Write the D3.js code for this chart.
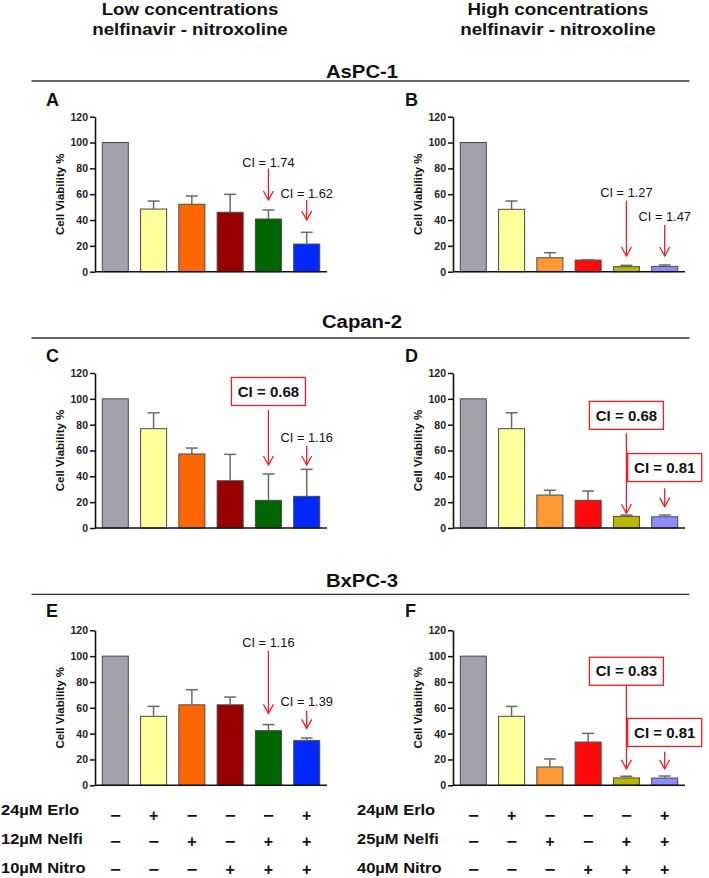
<!DOCTYPE html>
<html>
<head>
<meta charset="utf-8">
<script src="https://cdn.jsdelivr.net/npm/d3@7"></script>
<style>
  body { margin: 0; background: #fff; }
  svg { display: block; font-family: "Liberation Sans", Arial, sans-serif; }
</style>
</head>
<body>
<svg id="fig" width="709" height="878"></svg>
<script>
// ---- data ----
const cellLines = ['AsPC-1', 'Capan-2', 'BxPC-3'];
const panelLetters = [['A', 'B'], ['C', 'D'], ['E', 'F']];
const lowTitle = ['Low concentrations', 'nelfinavir - nitroxoline'];
const highTitle = ['High concentrations', 'nelfinavir - nitroxoline'];
const yTicks = [0, 20, 40, 60, 80, 100, 120];

// bar order: control, erlo, nelfi, nitro, nelfi+nitro, erlo+nelfi+nitro
const lowColors = ['#a2a2aa', '#ffff9c', '#ff6600', '#990000', '#006600', '#0028ff'];
const highColors = ['#a2a2aa', '#ffff9c', '#ff9933', '#ff0a0a', '#b8b800', '#8c8cff'];

const viabA = [100, 48.5, 52.2, 46.0, 40.8, 21.4];
const errA = [0, 6.2, 6.4, 13.9, 7.0, 9.1];
const viabB = [100, 48.3, 10.8, 9.0, 3.9, 4.1];
const errB = [0, 6.4, 3.9, 0.3, 1.0, 1.1];
const viabC = [100, 76.9, 57.3, 36.6, 21.4, 24.5];
const errC = [0, 12.3, 4.6, 20.4, 20.4, 20.9];
const viabD = [100, 76.9, 25.5, 21.4, 9.0, 8.7];
const errD = [0, 12.3, 3.7, 7.2, 1.0, 1.3];
const viabE = [100, 53.4, 62.3, 62.3, 42.3, 34.6];
const errE = [0, 7.7, 11.7, 6.0, 4.7, 2.0];
const viabF = [100, 53.4, 14.2, 33.5, 5.7, 5.6];
const errF = [0, 7.7, 6.2, 6.7, 1.3, 1.6];

// CI notes: label level and arrow start/end in % viability units
const ciNotes = [
  {panel: 'A', bar: 4, text: 'CI = 1.74', boxed: false, at: 84.9, from: 80, to: 55.5},
  {panel: 'A', bar: 5, text: 'CI = 1.62', boxed: false, at: 60.9, from: 55.5, to: 40},
  {panel: 'B', bar: 4, text: 'CI = 1.27', boxed: false, at: 61.3, from: 55, to: 12.2},
  {panel: 'B', bar: 5, text: 'CI = 1.47', boxed: false, at: 43.1, from: 36.1, to: 12.2},
  {panel: 'C', bar: 4, text: 'CI = 0.68', boxed: true, at: 105.7, from: 91.4, to: 48.8},
  {panel: 'C', bar: 5, text: 'CI = 1.16', boxed: false, at: 70.1, from: 63.7, to: 48.8},
  {panel: 'D', bar: 4, text: 'CI = 0.68', boxed: true, at: 87.2, from: 73.3, to: 11.4},
  {panel: 'D', bar: 5, text: 'CI = 0.81', boxed: true, at: 46.8, from: 30.8, to: 16.5},
  {panel: 'E', bar: 4, text: 'CI = 1.16', boxed: false, at: 110.6, from: 104.2, to: 55.7},
  {panel: 'E', bar: 5, text: 'CI = 1.39', boxed: false, at: 65.3, from: 57.8, to: 44.1},
  {panel: 'F', bar: 4, text: 'CI = 0.83', boxed: true, at: 88.3, from: 77.7, to: 12.7},
  {panel: 'F', bar: 5, text: 'CI = 0.81', boxed: true, at: 40.9, from: 26, to: 12.7}
];

const lowTreatments = ['24µM Erlo', '12µM Nelfi', '10µM Nitro'];
const highTreatments = ['24µM Erlo', '25µM Nelfi', '40µM Nitro'];
const erloSigns = ['−', '+', '−', '−', '−', '+'];
const nelfiSigns = ['−', '−', '+', '−', '+', '+'];
const nitroSigns = ['−', '−', '−', '+', '+', '+'];

const panels = [
  {id: 'A', row: 0, col: 0, values: viabA, errs: errA},
  {id: 'B', row: 0, col: 1, values: viabB, errs: errB},
  {id: 'C', row: 1, col: 0, values: viabC, errs: errC},
  {id: 'D', row: 1, col: 1, values: viabD, errs: errD},
  {id: 'E', row: 2, col: 0, values: viabE, errs: errE},
  {id: 'F', row: 2, col: 1, values: viabF, errs: errF}
];

// ---- layout ----
const svg = d3.select('#fig');
const RED = '#ee1c24';
const colAxis = [{x0: 95, x1: 327, mid: 190, tableX: 1}, {x0: 453, x1: 685, mid: 558, tableX: 357}];
const rowTop = [116.7, 373, 630.3];
const plotH = 155;
const sectionBase = [78.3, 328.3, 586.5];
const ruleY = [81, 338, 594.3];
const letterBase = [105.5, 362, 617.3];

// text with a horizontal stretch, the figure's lettering is a bit wide
function label(sel, x, y, str, o) {
  o = o || {};
  return sel.append('text')
    .attr('transform', 'translate(' + x + ',' + y + ') scale(' + (o.sx || 1) + ',1)' +
          (o.rot ? ' rotate(' + o.rot + ')' : ''))
    .attr('text-anchor', o.anchor || 'start')
    .attr('dy', o.dy || null)
    .style('font-size', o.size + 'px')
    .style('font-weight', o.bold ? 'bold' : 'normal')
    .attr('fill', o.fill || '#111')
    .text(str);
}

// column titles
[lowTitle, highTitle].forEach((lines, c) => {
  lines.forEach((s, k) => {
    label(svg, colAxis[c].mid, 15 + k * 20, s, {size: 16, bold: true, anchor: 'middle', sx: 1.17});
  });
});

// cell line headers with rules
cellLines.forEach((name, r) => {
  label(svg, 362, sectionBase[r], name, {size: 19, bold: true, anchor: 'middle', sx: 1.07});
  svg.append('line')
    .attr('x1', 31.5).attr('x2', 689.5)
    .attr('y1', ruleY[r]).attr('y2', ruleY[r])
    .attr('stroke', '#333').attr('stroke-width', 1.3);
  panelLetters[r].forEach((L, c) => {
    label(svg, c === 0 ? 46 : 405, letterBase[r], L, {size: 18, bold: true});
  });
});

const scales = {};

panels.forEach(p => {
  const cx = colAxis[p.col];
  const top = rowTop[p.row];
  const colors = p.col === 0 ? lowColors : highColors;

  const x = d3.scaleBand()
    .domain(d3.range(p.values.length))
    .range([cx.x0, cx.x1])
    .paddingInner(0.32)
    .paddingOuter(0.19);
  const y = d3.scaleLinear().domain([0, 120]).range([top + plotH, top]);
  scales[p.id] = {x: x, y: y};

  const g = svg.append('g').attr('class', 'panel-' + p.id);

  // bars
  g.selectAll('.bar')
    .data(p.values.map((v, i) => ({v: v, e: p.errs[i], i: i})))
    .enter()
    .append('rect')
    .attr('class', 'bar')
    .attr('x', d => x(d.i))
    .attr('width', x.bandwidth())
    .attr('y', d => y(d.v))
    .attr('height', d => y(0) - y(d.v))
    .attr('fill', d => colors[d.i])
    .attr('stroke', '#4a4a4a')
    .attr('stroke-width', 1);

  // error bars (upper only)
  const eb = g.selectAll('.err')
    .data(p.values.map((v, i) => ({v: v, e: p.errs[i], i: i})).filter(d => d.e > 0))
    .enter()
    .append('g')
    .attr('class', 'err')
    .attr('stroke', '#6a6a6a')
    .attr('stroke-width', 1.5);
  eb.append('line')
    .attr('x1', d => x(d.i) + x.bandwidth() / 2)
    .attr('x2', d => x(d.i) + x.bandwidth() / 2)
    .attr('y1', d => y(d.v))
    .attr('y2', d => y(d.v + d.e));
  eb.append('line')
    .attr('x1', d => x(d.i) + x.bandwidth() / 2 - 6)
    .attr('x2', d => x(d.i) + x.bandwidth() / 2 + 6)
    .attr('y1', d => y(d.v + d.e))
    .attr('y2', d => y(d.v + d.e));

  // axes
  const ax = g.append('g')
    .attr('transform', 'translate(' + cx.x0 + ',0)')
    .call(d3.axisLeft(y).tickValues(yTicks).tickSize(5).tickPadding(2).tickSizeOuter(0));
  ax.select('.domain').attr('stroke', '#111').attr('stroke-width', 1.6);
  ax.selectAll('.tick line').attr('stroke', '#111').attr('stroke-width', 1.5);
  ax.selectAll('.tick text')
    .style('font-size', '10.5px')
    .style('font-weight', 'bold')
    .style('font-family', '"Liberation Sans", Arial, sans-serif')
    .attr('fill', '#222');

  g.append('line')
    .attr('x1', cx.x0).attr('x2', cx.x1)
    .attr('y1', y(0)).attr('y2', y(0))
    .attr('stroke', '#111').attr('stroke-width', 1.6);

  label(g, cx.x0 - 35, top + plotH / 2, 'Cell Viability %',
        {size: 11.5, bold: true, anchor: 'middle', rot: -90, dy: '0.35em'});
});

// CI annotations
ciNotes.forEach(n => {
  const s = scales[n.panel];
  const cx = s.x(n.bar) + s.x.bandwidth() / 2;
  const g = svg.append('g').attr('class', 'ci');
  if (n.boxed) {
    g.append('rect')
      .attr('x', cx - 37).attr('y', s.y(n.at) - 14)
      .attr('width', 74).attr('height', 28)
      .attr('fill', '#fff')
      .attr('stroke', RED).attr('stroke-width', 1.3);
    label(g, cx, s.y(n.at), n.text, {size: 15, bold: true, anchor: 'middle', dy: '0.35em'});
  } else {
    label(g, cx, s.y(n.at), n.text, {size: 13.5, anchor: 'middle', dy: '0.35em', sx: 0.95});
  }
  const tip = s.y(n.to);
  g.append('line')
    .attr('x1', cx).attr('x2', cx)
    .attr('y1', s.y(n.from)).attr('y2', tip)
    .attr('stroke', RED).attr('stroke-width', 1.3);
  g.append('path')
    .attr('d', 'M' + (cx - 5) + ',' + (tip - 9) + 'L' + cx + ',' + tip + 'L' + (cx + 5) + ',' + (tip - 9))
    .attr('fill', 'none')
    .attr('stroke', RED).attr('stroke-width', 1.3);
});

// treatment table under the bottom panels
const labelRows = [810, 839, 867.5];
const signRows = [815, 841, 869];
const signSets = [erloSigns, nelfiSigns, nitroSigns];
[lowTreatments, highTreatments].forEach((names, c) => {
  const s = scales[c === 0 ? 'E' : 'F'];
  names.forEach((nm, r) => {
    label(svg, colAxis[c].tableX, labelRows[r], nm, {size: 15, bold: true, dy: '0.35em', sx: 1.1});
    signSets[r].forEach((sg, i) => {
      label(svg, s.x(i) + s.x.bandwidth() / 2, signRows[r], sg,
            {size: 16, bold: true, anchor: 'middle', dy: '0.35em', sx: sg === '−' ? 1.15 : 1});
    });
  });
});
</script>
</body>
</html>
